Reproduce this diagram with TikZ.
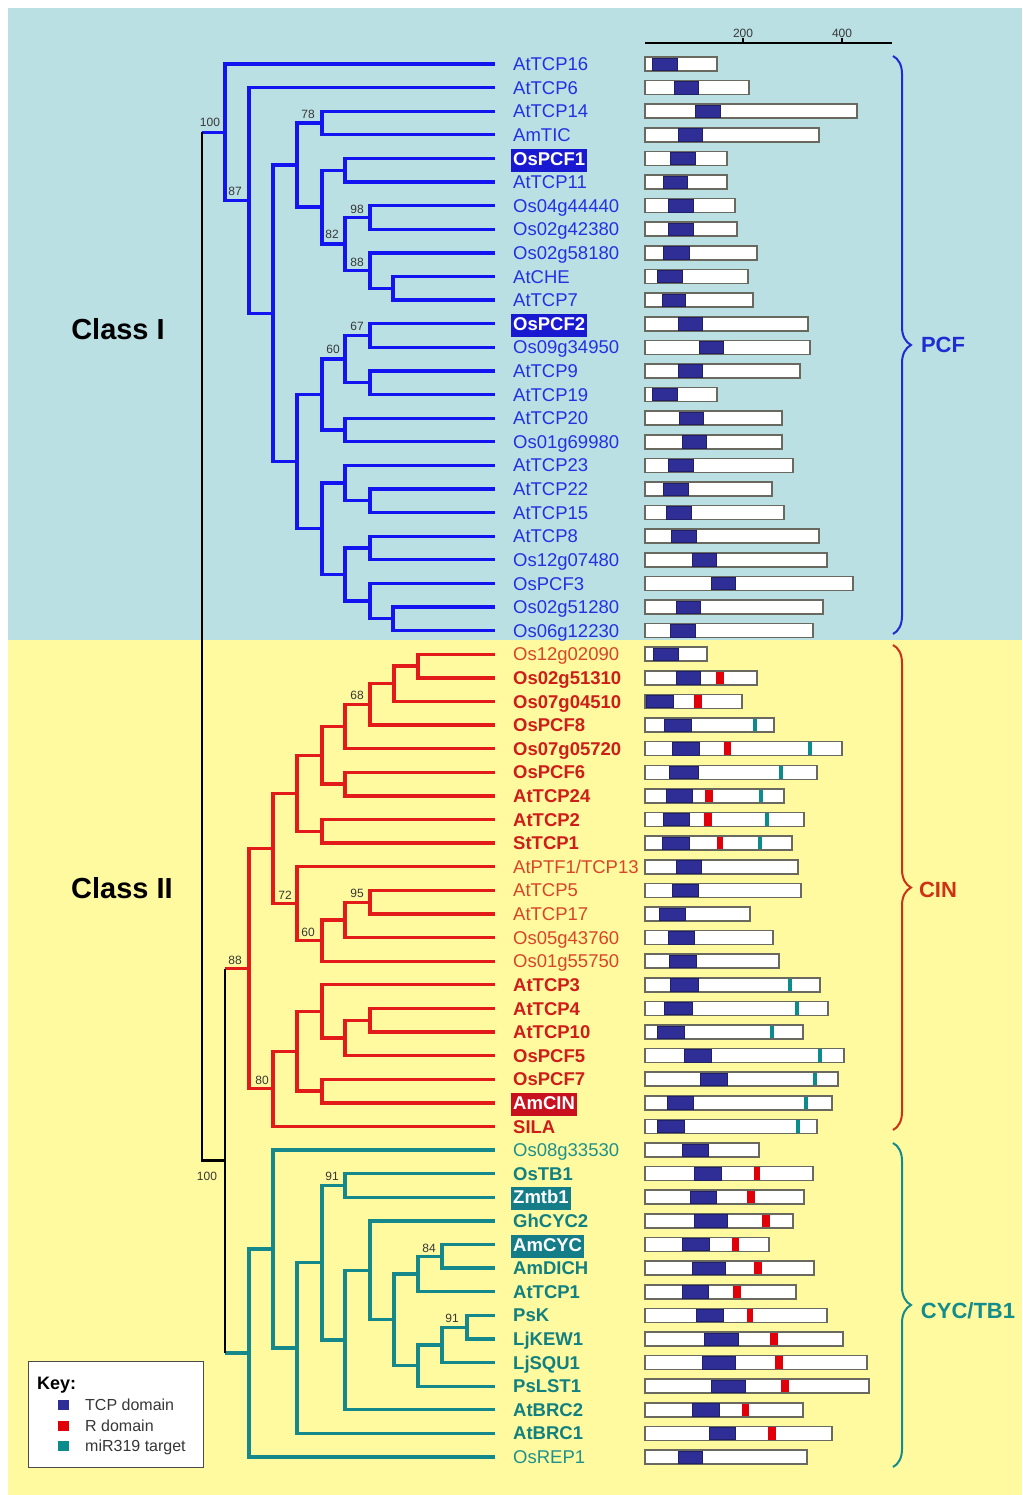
\documentclass[tikz,border=0pt]{standalone}
\usepackage{fontspec}
\setmainfont{Liberation Sans}
\usetikzlibrary{decorations.pathreplacing}

\definecolor{bgblue}{RGB}{186,224,228}
\definecolor{bgyellow}{RGB}{255,250,160}
\definecolor{lnblue}{RGB}{20,20,240}
\definecolor{lnred}{RGB}{226,26,26}
\definecolor{lnteal}{RGB}{20,136,138}
\definecolor{txblue}{RGB}{35,50,225}
\definecolor{txred}{RGB}{205,30,25}
\definecolor{txredl}{RGB}{215,70,40}
\definecolor{txteal}{RGB}{16,128,128}
\definecolor{txteall}{RGB}{30,145,140}
\definecolor{hlblue}{RGB}{25,25,210}
\definecolor{hlred}{RGB}{200,16,30}
\definecolor{hlteal}{RGB}{20,125,135}
\definecolor{tcpcol}{RGB}{46,46,150}
\definecolor{rcol}{RGB}{225,0,10}
\definecolor{mircol}{RGB}{10,140,140}
\definecolor{barline}{RGB}{105,105,95}
\definecolor{suptext}{RGB}{55,55,55}
\definecolor{brblue}{RGB}{30,45,210}
\definecolor{brred}{RGB}{205,50,20}
\definecolor{brteal}{RGB}{18,140,140}

\tikzset{
  lbl/.style={anchor=base west, yshift=-6.6pt, inner xsep=2pt, inner ysep=3pt,
    text height=13.5pt, text depth=3.5pt, font=\fontsize{18.5}{20}\selectfont},
  lblb/.style={lbl, font=\fontsize{18.5}{20}\selectfont\bfseries},
  pcf/.style={lbl, text=txblue},
  cinl/.style={lbl, text=txredl},
  cinb/.style={lblb, text=txred},
  cycl/.style={lbl, text=txteall},
  cycb/.style={lblb, text=txteal},
  hlb/.style={lblb, fill=hlblue, text=white},
  hlr/.style={lblb, fill=hlred, text=white},
  hlt/.style={lblb, fill=hlteal, text=white},
  btree/.style={line width=3.3pt, lnblue},
  rtree/.style={line width=3.3pt, lnred},
  ttree/.style={line width=3.3pt, lnteal},
  ktree/.style={line width=2.8pt, black},
  sup/.style={font=\fontsize{12}{12}\selectfont, text=suptext, inner sep=0pt},
  protein/.style={anchor=west, draw=barline, line width=1.6pt, fill=white,
    minimum height=14pt, inner sep=0pt, outer sep=0pt},
  tcpbox/.style={anchor=west, fill=tcpcol, draw=tcpcol!70!black, line width=0.5pt,
    minimum height=12.4pt, inner sep=0pt, outer sep=0pt},
  rbox/.style={anchor=west, fill=rcol, minimum height=12.4pt, inner sep=0pt, outer sep=0pt},
  mbox/.style={fill=mircol, minimum width=4pt, minimum height=12.4pt, inner sep=0pt, outer sep=0pt},
  grp/.style={font=\fontsize{22}{24}\selectfont\bfseries},
  cls/.style={font=\fontsize{29}{30}\selectfont\bfseries, text=black},
  brc/.style={decorate, decoration={brace, amplitude=18pt}, line width=2pt},
  keytxt/.style={anchor=base west, yshift=-5.7pt, inner xsep=2pt,
    font=\fontsize{16}{18}\selectfont, text=suptext},
  keysq/.style={minimum width=11pt, minimum height=10pt, inner sep=0pt}
}

\newcommand\leaf[3]{\node[#3] (t#1) at (511,#1) {#2};}
\newcommand\pbar[2]{\node[protein, minimum width={#2-645}] (p#1) at (645,#1) {};}
\newcommand\tcpd[3]{\node[tcpbox, minimum width={#3-#2}] (q#1) at (#2,#1) {};}
\newcommand\rdom[3]{\node[rbox, minimum width={#3-#2}] (r#1) at (#2,#1) {};}
\newcommand\mirt[2]{\node[mbox] (m#1) at (#2,#1) {};}

\begin{document}
\begin{tikzpicture}[x=1pt, y=-1pt]
\useasboundingbox (0,0) rectangle (1022,1495);

% background panels
\fill[bgblue] (8,8) rectangle (1022,640);
\fill[bgyellow] (8,640) rectangle (1022,1495);

% length scale
\coordinate (ax0) at (645,43);
\coordinate (ax1) at (892,43);
\draw[line width=2pt] (ax0) -- (ax1);
\draw[line width=1.2pt] (743,43) -- (743,38);
\draw[line width=1.2pt] (842,43) -- (842,38);
\node[sup] (sc200) at (743,33) {200};
\node[sup] (sc400) at (842,33) {400};

% class labels
\node[cls] (classI) at (118,329) {Class I};
\node[cls] (classII) at (122,888) {Class II};

% ---------------- rows: one unit per leaf ----------------
\begin{scope}[yshift=-64pt, y=-23.61pt]
\foreach \i in {0,...,59} { \coordinate (l\i) at (495,\i); }

% Class I (PCF)
\coordinate (a1) at (370,6.5);
\coordinate (a2) at (393,9.5);
\coordinate (a3) at (370,8.75);
\coordinate (a4) at (345,7.625);
\coordinate (a5) at (345,4.5);
\coordinate (a6) at (322,6.0625);
\coordinate (a7) at (322,2.5);
\coordinate (a8) at (297,4.28125);
\coordinate (b1) at (370,11.5);
\coordinate (b2) at (370,13.5);
\coordinate (b3) at (345,12.5);
\coordinate (b4) at (345,15.5);
\coordinate (b5) at (322,14);
\coordinate (b6) at (370,18.5);
\coordinate (b7) at (345,17.75);
\coordinate (b8) at (370,20.5);
\coordinate (b9) at (393,23.5);
\coordinate (b10) at (370,22.75);
\coordinate (b11) at (345,21.625);
\coordinate (b12) at (322,19.6875);
\coordinate (b13) at (297,16.84375);
\coordinate (c1) at (273,10.5625);
\coordinate (c2) at (249,5.78125);
\coordinate (c3) at (225,2.890625);

% CIN
\coordinate (d1) at (418,25.5);
\coordinate (d2) at (394,26.25);
\coordinate (d3) at (370,27.125);
\coordinate (d4) at (345,28.0625);
\coordinate (d5) at (345,30.5);
\coordinate (d6) at (322,29.28125);
\coordinate (d7) at (322,32.5);
\coordinate (d8) at (297,30.890625);
\coordinate (d9) at (370,35.5);
\coordinate (d10) at (345,36.25);
\coordinate (d11) at (322,37.125);
\coordinate (d12) at (297,35.5625);
\coordinate (d13) at (273,33.2265625);
\coordinate (e1) at (370,40.5);
\coordinate (e2) at (345,41.25);
\coordinate (e3) at (322,40.125);
\coordinate (e4) at (322,43.5);
\coordinate (e5) at (297,41.8125);
\coordinate (e6) at (273,43.40625);
\coordinate (e7) at (249,38.31640625);

% CYC/TB1
\coordinate (f1) at (345,47.5);
\coordinate (f2) at (442,50.5);
\coordinate (f3) at (418,51.25);
\coordinate (f4) at (467,53.5);
\coordinate (f5) at (442,54.25);
\coordinate (f6) at (418,55.125);
\coordinate (f7) at (394,53.1875);
\coordinate (f8) at (370,51.09375);
\coordinate (f9) at (345,54.046875);
\coordinate (f10) at (322,50.7734375);
\coordinate (f11) at (297,54.38671875);
\coordinate (f12) at (273,50.193359375);
\coordinate (f13) at (249,54.5966796875);

% class II and root
\coordinate (K) at (225,46.45654296875);
\coordinate (R) at (202,24.0);

% Class I branches
\draw[btree] (l6) -| (a1) |- (l7);
\draw[btree] (l9) -| (a2) |- (l10);
\draw[btree] (l8) -| (a3) |- (a2);
\draw[btree] (a1) -| (a4) |- (a3);
\draw[btree] (l4) -| (a5) |- (l5);
\draw[btree] (a5) -| (a6) |- (a4);
\draw[btree] (l2) -| (a7) |- (l3);
\draw[btree] (a7) -| (a8) |- (a6);
\draw[btree] (l11) -| (b1) |- (l12);
\draw[btree] (l13) -| (b2) |- (l14);
\draw[btree] (b1) -| (b3) |- (b2);
\draw[btree] (l15) -| (b4) |- (l16);
\draw[btree] (b3) -| (b5) |- (b4);
\draw[btree] (l18) -| (b6) |- (l19);
\draw[btree] (l17) -| (b7) |- (b6);
\draw[btree] (l20) -| (b8) |- (l21);
\draw[btree] (l23) -| (b9) |- (l24);
\draw[btree] (l22) -| (b10) |- (b9);
\draw[btree] (b8) -| (b11) |- (b10);
\draw[btree] (b7) -| (b12) |- (b11);
\draw[btree] (b5) -| (b13) |- (b12);
\draw[btree] (a8) -| (c1) |- (b13);
\draw[btree] (l1) -| (c2) |- (c1);
\draw[btree] (l0) -| (c3) |- (c2);

% CIN branches
\draw[rtree] (l25) -| (d1) |- (l26);
\draw[rtree] (d1) -| (d2) |- (l27);
\draw[rtree] (d2) -| (d3) |- (l28);
\draw[rtree] (d3) -| (d4) |- (l29);
\draw[rtree] (l30) -| (d5) |- (l31);
\draw[rtree] (d4) -| (d6) |- (d5);
\draw[rtree] (l32) -| (d7) |- (l33);
\draw[rtree] (d6) -| (d8) |- (d7);
\draw[rtree] (l35) -| (d9) |- (l36);
\draw[rtree] (d9) -| (d10) |- (l37);
\draw[rtree] (d10) -| (d11) |- (l38);
\draw[rtree] (l34) -| (d12) |- (d11);
\draw[rtree] (d8) -| (d13) |- (d12);
\draw[rtree] (l40) -| (e1) |- (l41);
\draw[rtree] (e1) -| (e2) |- (l42);
\draw[rtree] (l39) -| (e3) |- (e2);
\draw[rtree] (l43) -| (e4) |- (l44);
\draw[rtree] (e3) -| (e5) |- (e4);
\draw[rtree] (e5) -| (e6) |- (l45);
\draw[rtree] (d13) -| (e7) |- (e6);

% CYC/TB1 branches
\draw[ttree] (l47) -| (f1) |- (l48);
\draw[ttree] (l50) -| (f2) |- (l51);
\draw[ttree] (f2) -| (f3) |- (l52);
\draw[ttree] (l53) -| (f4) |- (l54);
\draw[ttree] (f4) -| (f5) |- (l55);
\draw[ttree] (f5) -| (f6) |- (l56);
\draw[ttree] (f3) -| (f7) |- (f6);
\draw[ttree] (l49) -| (f8) |- (f7);
\draw[ttree] (f8) -| (f9) |- (l57);
\draw[ttree] (f1) -| (f10) |- (f9);
\draw[ttree] (f10) -| (f11) |- (l58);
\draw[ttree] (l46) -| (f12) |- (f11);
\draw[ttree] (f12) -| (f13) |- (l59);

% stems into the two classes and the root
\draw[btree] (c3) -- (c3 -| R);
\draw[rtree] (e7) -- (e7 -| K);
\draw[ttree] (f13) -- (f13 -| K);
\draw[ktree] (e7 -| K) -- (f13 -| K);
\draw[ktree] (c3 -| R) -- (K -| R) -- (K);

% leaf names
\leaf{0}{AtTCP16}{pcf}
\leaf{1}{AtTCP6}{pcf}
\leaf{2}{AtTCP14}{pcf}
\leaf{3}{AmTIC}{pcf}
\leaf{4}{OsPCF1}{hlb}
\leaf{5}{AtTCP11}{pcf}
\leaf{6}{Os04g44440}{pcf}
\leaf{7}{Os02g42380}{pcf}
\leaf{8}{Os02g58180}{pcf}
\leaf{9}{AtCHE}{pcf}
\leaf{10}{AtTCP7}{pcf}
\leaf{11}{OsPCF2}{hlb}
\leaf{12}{Os09g34950}{pcf}
\leaf{13}{AtTCP9}{pcf}
\leaf{14}{AtTCP19}{pcf}
\leaf{15}{AtTCP20}{pcf}
\leaf{16}{Os01g69980}{pcf}
\leaf{17}{AtTCP23}{pcf}
\leaf{18}{AtTCP22}{pcf}
\leaf{19}{AtTCP15}{pcf}
\leaf{20}{AtTCP8}{pcf}
\leaf{21}{Os12g07480}{pcf}
\leaf{22}{OsPCF3}{pcf}
\leaf{23}{Os02g51280}{pcf}
\leaf{24}{Os06g12230}{pcf}
\leaf{25}{Os12g02090}{cinl}
\leaf{26}{Os02g51310}{cinb}
\leaf{27}{Os07g04510}{cinb}
\leaf{28}{OsPCF8}{cinb}
\leaf{29}{Os07g05720}{cinb}
\leaf{30}{OsPCF6}{cinb}
\leaf{31}{AtTCP24}{cinb}
\leaf{32}{AtTCP2}{cinb}
\leaf{33}{StTCP1}{cinb}
\leaf{34}{AtPTF1/TCP13}{cinl}
\leaf{35}{AtTCP5}{cinl}
\leaf{36}{AtTCP17}{cinl}
\leaf{37}{Os05g43760}{cinl}
\leaf{38}{Os01g55750}{cinl}
\leaf{39}{AtTCP3}{cinb}
\leaf{40}{AtTCP4}{cinb}
\leaf{41}{AtTCP10}{cinb}
\leaf{42}{OsPCF5}{cinb}
\leaf{43}{OsPCF7}{cinb}
\leaf{44}{AmCIN}{hlr}
\leaf{45}{SILA}{cinb}
\leaf{46}{Os08g33530}{cycl}
\leaf{47}{OsTB1}{cycb}
\leaf{48}{Zmtb1}{hlt}
\leaf{49}{GhCYC2}{cycb}
\leaf{50}{AmCYC}{hlt}
\leaf{51}{AmDICH}{cycb}
\leaf{52}{AtTCP1}{cycb}
\leaf{53}{PsK}{cycb}
\leaf{54}{LjKEW1}{cycb}
\leaf{55}{LjSQU1}{cycb}
\leaf{56}{PsLST1}{cycb}
\leaf{57}{AtBRC2}{cycb}
\leaf{58}{AtBRC1}{cycb}
\leaf{59}{OsREP1}{cycl}

% protein diagrams
\pbar{0}{717}\tcpd{0}{652}{677}
\pbar{1}{749}\tcpd{1}{674}{698}
\pbar{2}{857}\tcpd{2}{695}{720}
\pbar{3}{819}\tcpd{3}{678}{702}
\pbar{4}{727}\tcpd{4}{670}{695}
\pbar{5}{727}\tcpd{5}{663}{687}
\pbar{6}{735}\tcpd{6}{668}{693}
\pbar{7}{737}\tcpd{7}{668}{693}
\pbar{8}{757}\tcpd{8}{663}{689}
\pbar{9}{748}\tcpd{9}{657}{682}
\pbar{10}{753}\tcpd{10}{662}{685}
\pbar{11}{808}\tcpd{11}{678}{702}
\pbar{12}{810}\tcpd{12}{699}{723}
\pbar{13}{800}\tcpd{13}{678}{702}
\pbar{14}{717}\tcpd{14}{652}{677}
\pbar{15}{782}\tcpd{15}{679}{703}
\pbar{16}{782}\tcpd{16}{682}{706}
\pbar{17}{793}\tcpd{17}{668}{693}
\pbar{18}{772}\tcpd{18}{663}{688}
\pbar{19}{784}\tcpd{19}{666}{691}
\pbar{20}{819}\tcpd{20}{671}{696}
\pbar{21}{827}\tcpd{21}{692}{716}
\pbar{22}{853}\tcpd{22}{711}{735}
\pbar{23}{823}\tcpd{23}{676}{700}
\pbar{24}{813}\tcpd{24}{670}{695}
\pbar{25}{707}\tcpd{25}{653}{678}
\pbar{26}{757}\tcpd{26}{676}{700}\rdom{26}{716}{724}
\pbar{27}{742}\tcpd{27}{646}{673}\rdom{27}{694}{702}
\pbar{28}{774}\tcpd{28}{664}{691}\mirt{28}{755}
\pbar{29}{842}\tcpd{29}{672}{699}\rdom{29}{724}{731}\mirt{29}{810}
\pbar{30}{817}\tcpd{30}{669}{698}\mirt{30}{781}
\pbar{31}{784}\tcpd{31}{666}{692}\rdom{31}{705}{713}\mirt{31}{761}
\pbar{32}{804}\tcpd{32}{663}{689}\rdom{32}{704}{712}\mirt{32}{767}
\pbar{33}{792}\tcpd{33}{662}{689}\rdom{33}{717}{723}\mirt{33}{760}
\pbar{34}{798}\tcpd{34}{676}{701}
\pbar{35}{801}\tcpd{35}{672}{698}
\pbar{36}{750}\tcpd{36}{659}{685}
\pbar{37}{773}\tcpd{37}{668}{694}
\pbar{38}{779}\tcpd{38}{669}{696}
\pbar{39}{820}\tcpd{39}{670}{698}\mirt{39}{790}
\pbar{40}{828}\tcpd{40}{664}{692}\mirt{40}{797}
\pbar{41}{803}\tcpd{41}{657}{684}\mirt{41}{772}
\pbar{42}{844}\tcpd{42}{684}{711}\mirt{42}{820}
\pbar{43}{838}\tcpd{43}{700}{727}\mirt{43}{815}
\pbar{44}{832}\tcpd{44}{667}{693}\mirt{44}{806}
\pbar{45}{817}\tcpd{45}{657}{684}\mirt{45}{798}
\pbar{46}{759}\tcpd{46}{682}{708}
\pbar{47}{813}\tcpd{47}{694}{721}\rdom{47}{754}{760}
\pbar{48}{804}\tcpd{48}{690}{716}\rdom{48}{747}{755}
\pbar{49}{793}\tcpd{49}{694}{727}\rdom{49}{762}{770}
\pbar{50}{769}\tcpd{50}{682}{709}\rdom{50}{732}{739}
\pbar{51}{814}\tcpd{51}{692}{725}\rdom{51}{754}{762}
\pbar{52}{796}\tcpd{52}{682}{708}\rdom{52}{733}{741}
\pbar{53}{827}\tcpd{53}{696}{723}\rdom{53}{747}{753}
\pbar{54}{843}\tcpd{54}{704}{738}\rdom{54}{770}{778}
\pbar{55}{867}\tcpd{55}{702}{735}\rdom{55}{775}{783}
\pbar{56}{869}\tcpd{56}{711}{745}\rdom{56}{781}{789}
\pbar{57}{803}\tcpd{57}{692}{719}\rdom{57}{742}{749}
\pbar{58}{832}\tcpd{58}{709}{735}\rdom{58}{768}{776}
\pbar{59}{807}\tcpd{59}{678}{702}
\end{scope}

% bootstrap support values
\node[sup] (s1) at (210,122) {100};
\node[sup] (s2) at (235,191) {87};
\node[sup] (s3) at (308,114) {78};
\node[sup] (s4) at (357,209) {98};
\node[sup] (s5) at (332,234) {82};
\node[sup] (s6) at (357,262) {88};
\node[sup] (s7) at (357,326) {67};
\node[sup] (s8) at (333,349) {60};
\node[sup] (s9) at (357,695) {68};
\node[sup] (s10) at (285,895) {72};
\node[sup] (s11) at (357,893) {95};
\node[sup] (s12) at (308,932) {60};
\node[sup] (s13) at (235,960) {88};
\node[sup] (s14) at (262,1080) {80};
\node[sup] (s15) at (207,1176) {100};
\node[sup] (s16) at (332,1176) {91};
\node[sup] (s17) at (429,1248) {84};
\node[sup] (s18) at (452,1318) {91};

% subfamily braces
\coordinate (pcfT) at (893,56);
\coordinate (pcfB) at (893,634);
\coordinate (cinT) at (893,645);
\coordinate (cinB) at (893,1130);
\coordinate (cycT) at (893,1143);
\coordinate (cycB) at (893,1467);
\draw[brc, brblue] (pcfT) -- (pcfB);
\draw[brc, brred] (cinT) -- (cinB);
\draw[brc, brteal] (cycT) -- (cycB);
\node[grp, text=brblue] (gpcf) at (943,345) {PCF};
\node[grp, text=brred] (gcin) at (938,890) {CIN};
\node[grp, text=brteal] (gcyc) at (968,1311) {CYC/TB1};

% key
\node[draw=black!70, line width=1pt, fill=white, minimum width=175pt, minimum height=106pt,
  anchor=north west, inner sep=0pt] (key) at (28,1361) {};
\node[anchor=base west, yshift=-6.5pt, inner xsep=0pt, font=\fontsize{18}{20}\selectfont\bfseries] (keyhd) at (37,1383) {Key:};
\node[keysq, fill=tcpcol] (k1) at (63,1405) {};
\node[keysq, fill=rcol] (k2) at (63,1426) {};
\node[keysq, fill=mircol] (k3) at (63,1446) {};
\node[keytxt] (kt1) at (83,1405) {TCP domain};
\node[keytxt] (kt2) at (83,1426) {R domain};
\node[keytxt] (kt3) at (83,1446) {miR319 target};
\end{tikzpicture}
\end{document}
